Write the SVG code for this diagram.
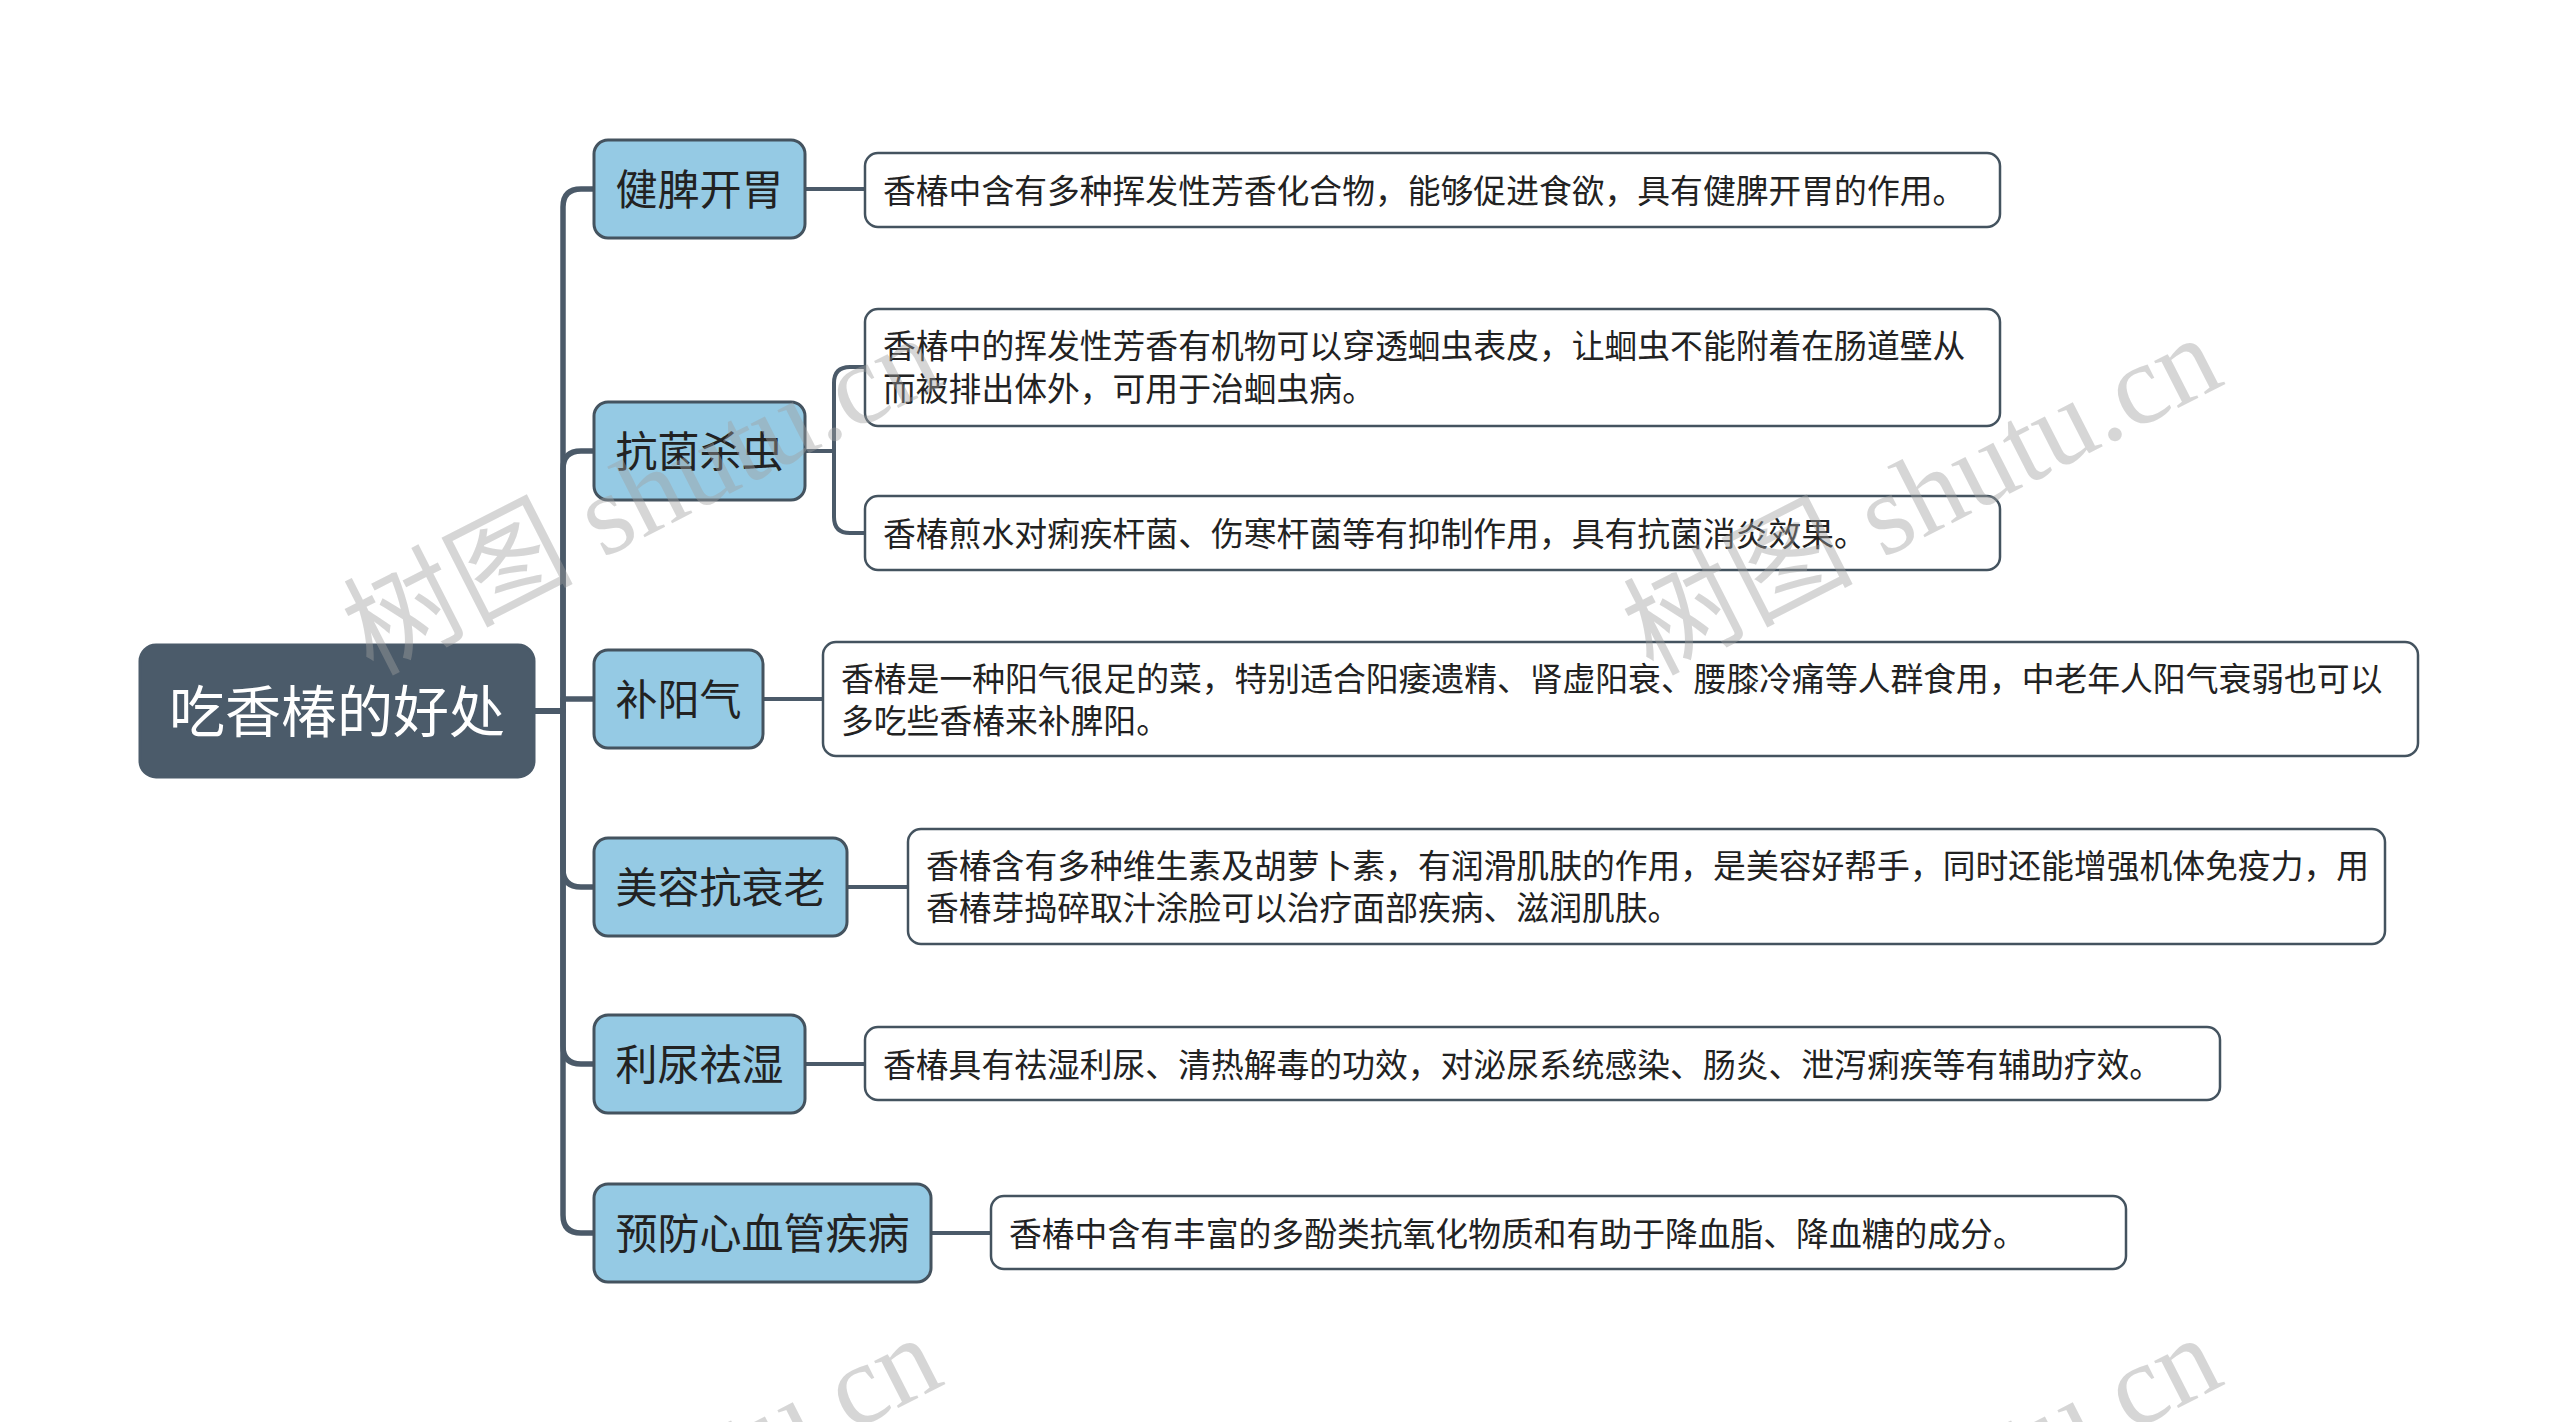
<svg xmlns="http://www.w3.org/2000/svg" width="2560" height="1422" viewBox="0 0 2560 1422">
<style>
.root rect{fill:#4b5b6a;stroke:#4b5b6a;stroke-width:3}
.root text{fill:#ffffff;font-size:56px}
.br rect{fill:#95cae4;stroke:#44535f;stroke-width:3}
.br text{fill:#222222;font-size:42px}
.lf rect{fill:#ffffff;stroke:#44535f;stroke-width:2.5}
.lf text{fill:#222222;font-size:32.8px}
text{font-family:"Noto Sans CJK SC","Noto Sans",sans-serif;dominant-baseline:central}
.conn path{fill:none;stroke:#4b5a69;stroke-linecap:round;stroke-linejoin:round}
.trunk{stroke-width:5.5}
.leafc{stroke-width:4}
.wm{font-family:"Liberation Serif","Noto Sans CJK SC",serif;font-size:115px;fill:#a0a0a0;opacity:0.42;dominant-baseline:auto}
</style>
<rect x="0" y="0" width="2560" height="1422" fill="#ffffff"/>
<g class="conn" id="connectors">
<path class="trunk" d="M534 711 H563 V207 Q563 189 581 189 H594"/>
<path class="trunk" d="M534 711 H563 V469 Q563 451 581 451 H594"/>
<path class="trunk" d="M534 711 H563 V699 H594"/>
<path class="trunk" d="M534 711 H563 V869 Q563 887 581 887 H594"/>
<path class="trunk" d="M534 711 H563 V1046 Q563 1064 581 1064 H594"/>
<path class="trunk" d="M534 711 H563 V1215 Q563 1233 581 1233 H594"/>
<path class="leafc" d="M805 189 H864"/>
<path class="leafc" d="M805 451 H834 V383 Q834 367 850 367 H864"/>
<path class="leafc" d="M834 451 V517 Q834 533 850 533 H864"/>
<path class="leafc" d="M763 699 H823"/>
<path class="leafc" d="M847 887 H908"/>
<path class="leafc" d="M805 1064 H865"/>
<path class="leafc" d="M931 1233 H991"/>
</g>
<g class="root" id="root">
<rect x="140" y="645" width="394" height="132" rx="16"/>
<text x="337" y="707" text-anchor="middle">吃香椿的好处</text>
</g>
<g class="br" id="b1">
<rect x="594" y="140" width="211" height="98" rx="14"/>
<text x="699.5" y="186" text-anchor="middle">健脾开胃</text>
</g>
<g class="br" id="b2">
<rect x="594" y="402" width="211" height="98" rx="14"/>
<text x="699.5" y="448" text-anchor="middle">抗菌杀虫</text>
</g>
<g class="br" id="b3">
<rect x="594" y="650" width="169" height="98" rx="14"/>
<text x="678.5" y="696" text-anchor="middle">补阳气</text>
</g>
<g class="br" id="b4">
<rect x="594" y="838" width="253" height="98" rx="14"/>
<text x="720.5" y="884" text-anchor="middle">美容抗衰老</text>
</g>
<g class="br" id="b5">
<rect x="594" y="1015" width="211" height="98" rx="14"/>
<text x="699.5" y="1061" text-anchor="middle">利尿祛湿</text>
</g>
<g class="br" id="b6">
<rect x="594" y="1184" width="337" height="98" rx="14"/>
<text x="762.5" y="1230" text-anchor="middle">预防心血管疾病</text>
</g>
<g class="lf" id="l1">
<rect x="865" y="153" width="1135" height="74" rx="13"/>
<text x="883" y="188">香椿中含有多种挥发性芳香化合物，能够促进食欲，具有健脾开胃的作用。</text>
</g>
<g class="lf" id="l2">
<rect x="865" y="309" width="1135" height="117" rx="13"/>
<text x="883" y="343">香椿中的挥发性芳香有机物可以穿透蛔虫表皮，让蛔虫不能附着在肠道壁从</text>
<text x="883" y="386">而被排出体外，可用于治蛔虫病。</text>
</g>
<g class="lf" id="l3">
<rect x="865" y="496" width="1135" height="74" rx="13"/>
<text x="883" y="531">香椿煎水对痢疾杆菌、伤寒杆菌等有抑制作用，具有抗菌消炎效果。</text>
</g>
<g class="lf" id="l4">
<rect x="823" y="642" width="1595" height="114" rx="13"/>
<text x="841" y="676">香椿是一种阳气很足的菜，特别适合阳痿遗精、肾虚阳衰、腰膝冷痛等人群食用，中老年人阳气衰弱也可以</text>
<text x="841" y="718">多吃些香椿来补脾阳。</text>
</g>
<g class="lf" id="l5">
<rect x="908" y="829" width="1477" height="115" rx="13"/>
<text x="926" y="863">香椿含有多种维生素及胡萝卜素，有润滑肌肤的作用，是美容好帮手，同时还能增强机体免疫力，用</text>
<text x="926" y="905">香椿芽捣碎取汁涂脸可以治疗面部疾病、滋润肌肤。</text>
</g>
<g class="lf" id="l6">
<rect x="865" y="1027" width="1355" height="73" rx="13"/>
<text x="883" y="1062">香椿具有祛湿利尿、清热解毒的功效，对泌尿系统感染、肠炎、泄泻痢疾等有辅助疗效。</text>
</g>
<g class="lf" id="l7">
<rect x="991" y="1196" width="1135" height="73" rx="13"/>
<text x="1009" y="1231">香椿中含有丰富的多酚类抗氧化物质和有助于降血脂、降血糖的成分。</text>
</g>
<g id="watermark">
<text class="wm" transform="translate(372,676) rotate(-27)">树图 shutu.cn</text>
<text class="wm" transform="translate(1652,676) rotate(-27)">树图 shutu.cn</text>
<text class="wm" transform="translate(372,1676) rotate(-27)">树图 shutu.cn</text>
<text class="wm" transform="translate(1652,1676) rotate(-27)">树图 shutu.cn</text>
</g>
</svg>
